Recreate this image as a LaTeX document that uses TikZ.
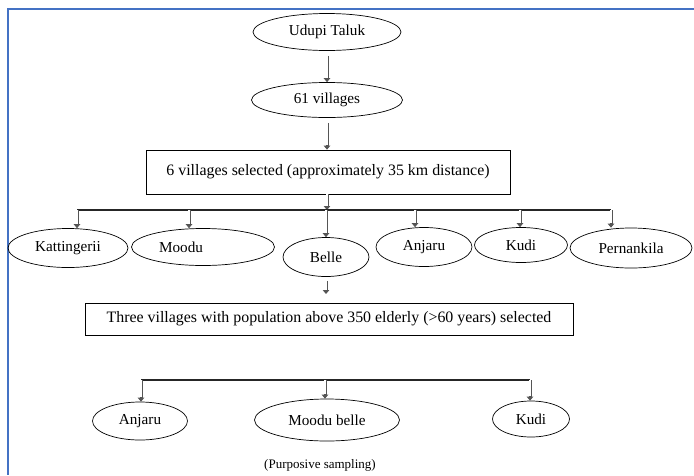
\documentclass[tikz,border=0pt]{standalone}
\usepackage{fontspec}
\setmainfont{Liberation Serif}
\usetikzlibrary{arrows.meta,shapes.geometric}
\definecolor{rim}{HTML}{4472C4}
\definecolor{shaft}{HTML}{555555}
\tikzset{oval/.style={ellipse,draw,line width=.7pt,inner sep=0pt,font=\fontsize{15.2}{17}\selectfont},box/.style={rectangle,draw,line width=.7pt,inner sep=0pt,font=\fontsize{15.9}{18}\selectfont},arr/.style={draw=shaft,line width=3pt,-{Triangle[length=4pt,width=6.5pt]},postaction={draw=white,line width=1.3pt,shorten >=4.5pt,-}},bar/.style={draw=black!85,line width=1.7pt},rimline/.style={draw=rim,line width=1.5pt}}
\begin{document}
\begin{tikzpicture}[x=1pt,y=-1pt]
\useasboundingbox (0,0) rectangle (694,475);
\draw[rimline] (694,9)--(8,9)--(8,475);
% top of the tree
\node[oval,minimum width=148,minimum height=37] (udupi) at (327,32) {Udupi Taluk};
\node[oval,minimum width=151,minimum height=35] (vil61) at (327,100) {61 villages};
\node[box,minimum width=364,minimum height=44] (sel6) at (328,172) {6 villages selected (approximately 35 km distance)};
\draw[arr,shorten <=5pt] (udupi.south)--(vil61.north); \draw[arr,shorten <=5pt] (vil61.south)--(sel6.north -| vil61.south);
\coordinate (hubA) at (327,210);
\draw[arr] (sel6.south -| hubA)--(hubA); \draw[bar] (77,210)--(611,210);
% six villages
\foreach \n/\x/\y/\w/\h/\d/\t in {kat/68/248/120/39/77/Kattingerii,moodu/203/247/143/37/189/Moodu\kern44pt,belle/326/257/86/39/326/Belle,anj/424/247/96/39/415/Anjaru,kudi/521/245/93/35/520/Kudi,pern/631/248/122/40/611/Pernankila}{
 \node[oval,minimum width=\w,minimum height=\h] (\n) at (\x,\y) {\t};
 \draw[arr] (\d,210)--(\d,210 |- \n.north);}
\node[box,minimum width=488,minimum height=32] (sel3) at (329,319) {Three villages with population above 350 elderly (>60 years) selected};
\coordinate (tipB) at (326,294);
\draw[arr,shorten <=4pt] (belle.south)--(tipB);
% three villages
\draw[bar] (141,380)--(530,380);
\foreach \n/\x/\y/\w/\h/\d/\t in {anjB/140/421/95/38/141/Anjaru,moobel/327/420/145/42/325/Moodu belle,kudiB/531/419/77/36/530/Kudi}{
 \node[oval,minimum width=\w,minimum height=\h] (\n) at (\x,\y) {\t};
 \draw[arr] (\d,380)--(\d,380 |- \n.north);}
\node[font=\fontsize{13}{15}\selectfont] (note) at (320,465) {(Purposive sampling)};
\end{tikzpicture}
\end{document}
